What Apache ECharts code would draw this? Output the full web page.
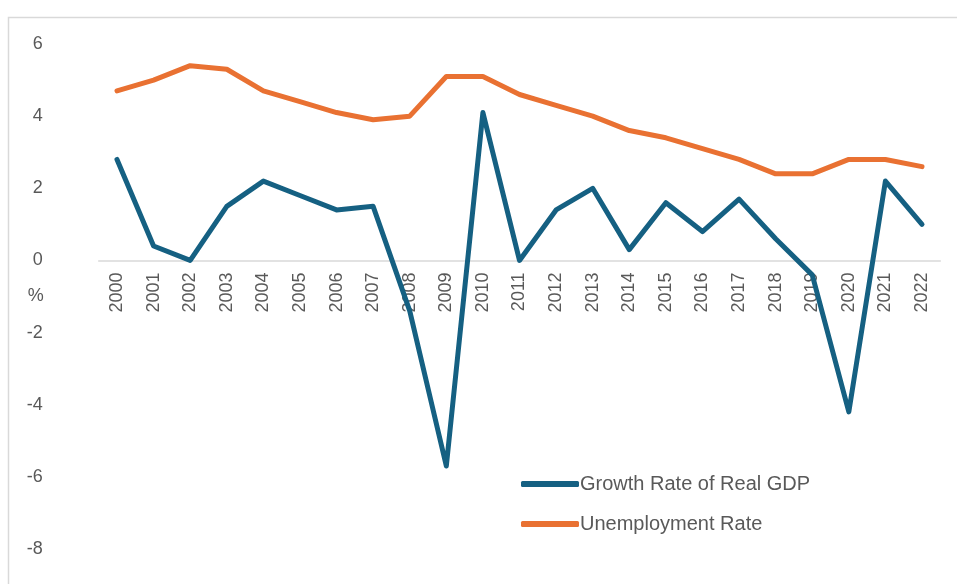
<!DOCTYPE html>
<html>
<head>
<meta charset="utf-8">
<title>Real GDP Growth and Unemployment, 2000–2022</title>
<script src="https://cdn.jsdelivr.net/npm/echarts@6/dist/echarts.min.js"></script>
<style>
  html, body { margin: 0; padding: 0; background: #ffffff; }
  #chart { width: 957px; height: 584px; }
</style>
</head>
<body>
<div id="chart"></div>
<script>
// Years on the category axis
const years = ['2000','2001','2002','2003','2004','2005','2006','2007','2008','2009','2010',
               '2011','2012','2013','2014','2015','2016','2017','2018','2019','2020','2021','2022'];

// Growth rate of real GDP (%)
const gdpGrowth = [2.8, 0.4, 0.0, 1.5, 2.2, 1.8, 1.4, 1.5, -1.4, -5.7, 4.1,
                   0.0, 1.4, 2.0, 0.3, 1.6, 0.8, 1.7, 0.6, -0.4, -4.2, 2.2, 1.0];

// Unemployment rate (%)
const unemployment = [4.7, 5.0, 5.4, 5.3, 4.7, 4.4, 4.1, 3.9, 4.0, 5.1, 5.1,
                      4.6, 4.3, 4.0, 3.6, 3.4, 3.1, 2.8, 2.4, 2.4, 2.8, 2.8, 2.6];

const seriesNames = ['Growth Rate of Real GDP', 'Unemployment Rate'];
const seriesColors = ['#156082', '#E97132'];

const textColor = '#595959';
const fontFamily = '"Liberation Sans", Arial, sans-serif';

const Y_MIN = -8, Y_MAX = 6;
const GRID = { left: 98.7, right: 16.7, top: 44, bottom: 35 };

const chart = echarts.init(document.getElementById('chart'), null, { renderer: 'canvas' });

// Plot height, used to lift the category axis (line and labels) onto the zero line
const plotHeight = 584 - GRID.top - GRID.bottom;
const zeroLift = plotHeight * (0 - Y_MIN) / (Y_MAX - Y_MIN);

chart.setOption({
  animation: false,
  backgroundColor: '#ffffff',
  graphic: [{
    type: 'rect',
    left: 6, top: 15,
    shape: { width: 980, height: 600 },
    style: { fill: 'none', stroke: '#d9d9d9', lineWidth: 1.5 },
    silent: true,
    z: -1
  }],
  grid: Object.assign({ containLabel: false, outerBoundsMode: 'none' }, GRID),
  legend: {
    orient: 'vertical',
    left: 516,
    top: 469,
    itemWidth: 58,
    itemHeight: 6,
    itemGap: 20,
    icon: 'roundRect',
    data: seriesNames,
    textStyle: { color: textColor, fontSize: 20, fontFamily: fontFamily, padding: [0, 0, 0, -4] }
  },
  xAxis: {
    type: 'category',
    data: years,
    boundaryGap: true,
    position: 'bottom',
    offset: -zeroLift,
    axisLine: { onZero: false, lineStyle: { color: '#d9d9d9', width: 1.5 } },
    axisTick: { show: false },
    axisLabel: {
      rotate: 90,
      margin: 12,
      interval: 0,
      color: textColor,
      fontSize: 18,
      fontFamily: fontFamily
    },
    splitLine: { show: false }
  },
  yAxis: {
    type: 'value',
    min: Y_MIN,
    max: Y_MAX,
    interval: 2,
    name: '%',
    nameLocation: 'middle',
    nameRotate: 0,
    nameGap: 55,
    nameMoveOverlap: false,
    nameTextStyle: { color: textColor, fontSize: 18, fontFamily: fontFamily, padding: [16, 0, 0, 0] },
    axisLine: { show: false },
    axisTick: { show: false },
    splitLine: { show: false },
    axisLabel: {
      margin: 56,
      color: textColor,
      fontSize: 18,
      fontFamily: fontFamily
    }
  },
  series: [
    {
      name: seriesNames[0],
      type: 'line',
      data: gdpGrowth,
      symbol: 'none',
      color: seriesColors[0],
      lineStyle: { width: 5, color: seriesColors[0], cap: 'round', join: 'round' },
      z: 3
    },
    {
      name: seriesNames[1],
      type: 'line',
      data: unemployment,
      symbol: 'none',
      color: seriesColors[1],
      lineStyle: { width: 5, color: seriesColors[1], cap: 'round', join: 'round' },
      z: 2
    }
  ]
});
</script>
</body>
</html>
